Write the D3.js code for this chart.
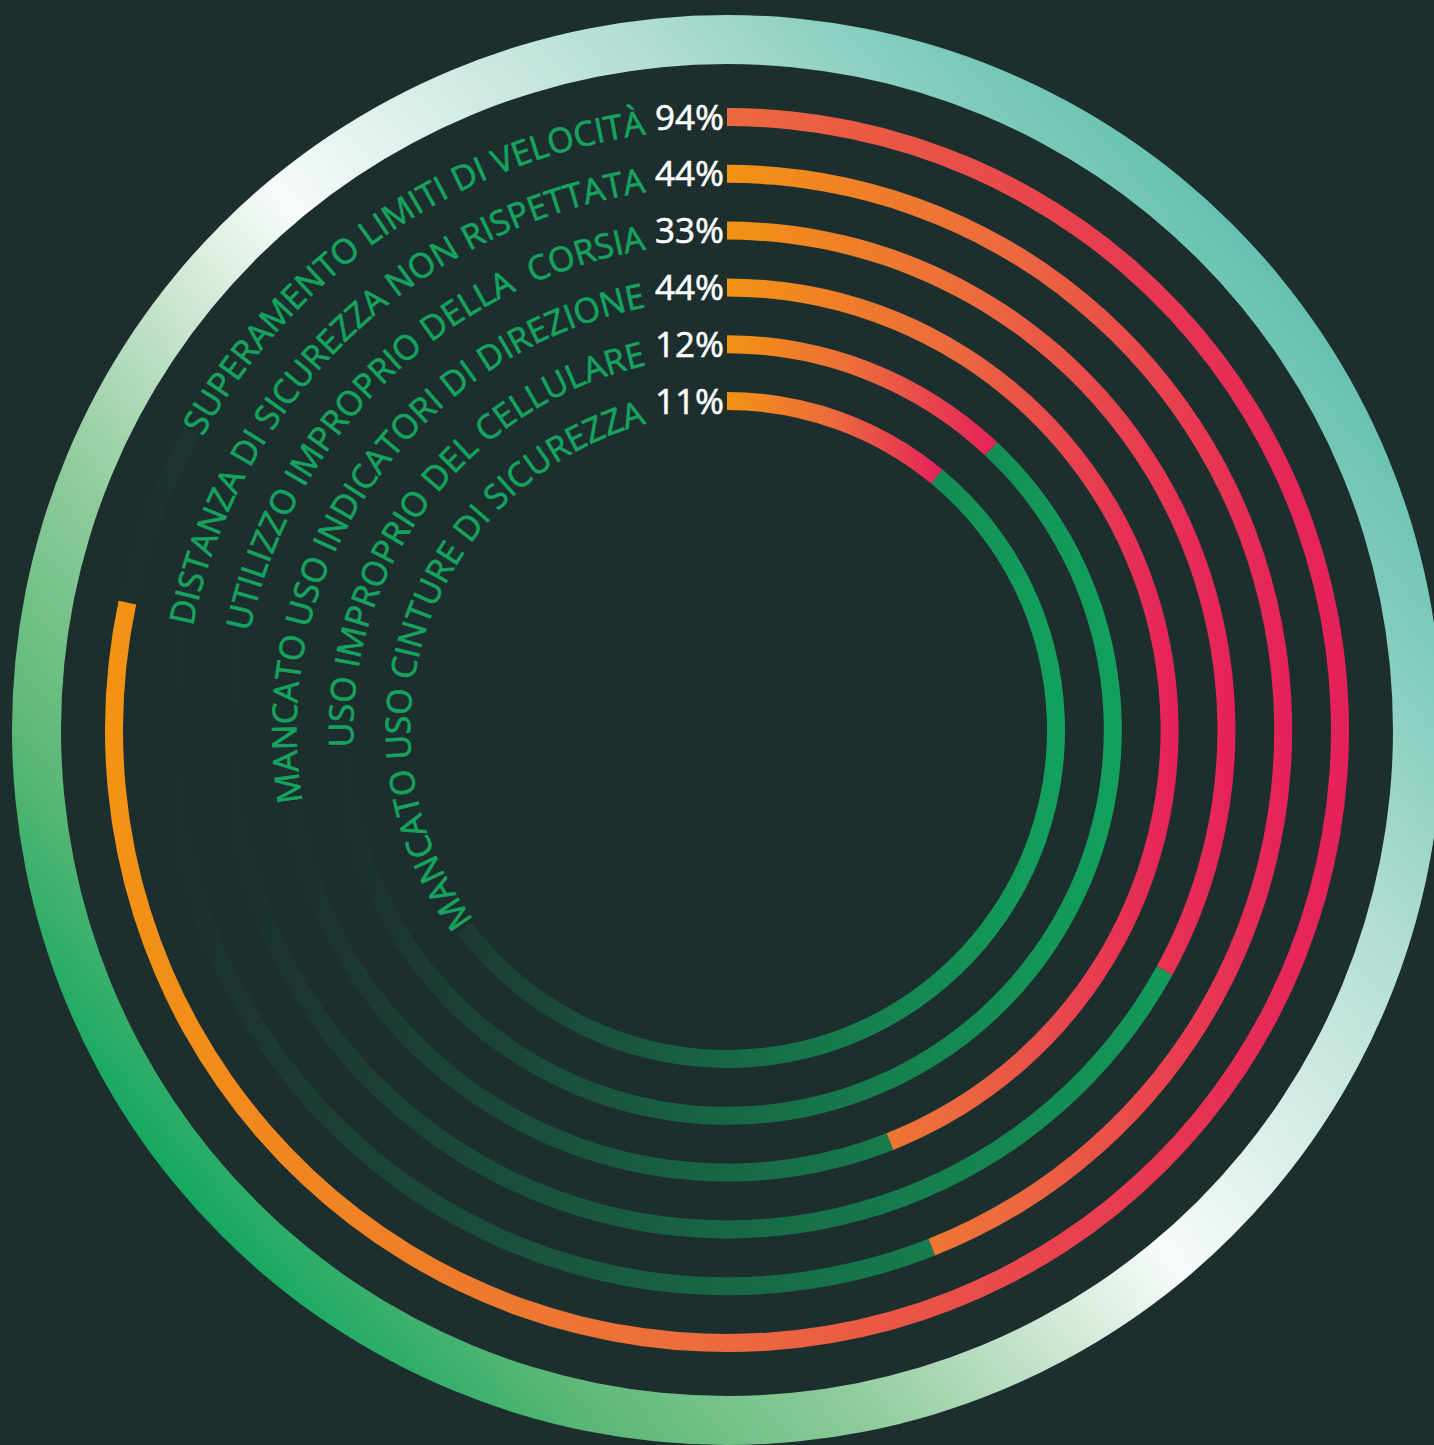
<!DOCTYPE html>
<html>
<head>
<meta charset="utf-8">
<script src="https://cdn.jsdelivr.net/npm/d3@7"></script>
<style>
  html, body { margin: 0; padding: 0; background: #1d2e2e; }
  svg { display: block; }
  .label { font-family: "Open Sans", sans-serif; fill: #15a35d; stroke: #15a35d; stroke-width: 0.7px; white-space: pre; }
  .pct { font-family: "Open Sans", sans-serif; fill: #ffffff; stroke: #ffffff; stroke-width: 0.6px; }
</style>
</head>
<body>
<svg id="chart"></svg>
<script>
// Values, outer ring first
var labels = [
    "SUPERAMENTO LIMITI DI VELOCITÀ",
    "DISTANZA DI SICUREZZA NON RISPETTATA",
    "UTILIZZO IMPROPRIO DELLA  CORSIA",
    "MANCATO USO INDICATORI DI DIREZIONE",
    "USO IMPROPRIO DEL CELLULARE",
    "MANCATO USO CINTURE DI SICUREZZA"
];
var values = [94, 44, 33, 44, 12, 11];

var width = 1434, height = 1445;
var cx = 727, cy = 730;
var bar_width = 18;
var ring_inner = 666, ring_outer = 715;
var label_size = 34, pct_size = 35;
// the last part of the circle is kept free for the labels
var max_sweep = 282 / 360 * 2 * Math.PI;
var bg = "#1d2e2e";

var svg = d3.select("#chart").attr("width", width).attr("height", height);
svg.append("rect").attr("width", width).attr("height", height).attr("fill", bg);
var defs = svg.append("defs");
var g = svg.append("g").attr("transform", "translate(" + cx + "," + cy + ")");

var angle = d3.scaleLinear().domain([0, 100]).range([0, 2 * Math.PI]);
var radius = d3.scalePoint().domain(d3.range(labels.length)).range([613, 329]);

// Outer decorative ring, teal -> white -> green along a diagonal
var dir = 50 * Math.PI / 180;
var ring_grad = defs.append("linearGradient")
    .attr("id", "ring-grad")
    .attr("gradientUnits", "userSpaceOnUse")
    .attr("x1", ring_outer * Math.sin(dir)).attr("y1", -ring_outer * Math.cos(dir))
    .attr("x2", -ring_outer * Math.sin(dir)).attr("y2", ring_outer * Math.cos(dir));
[[0, "#66c1ae"], [0.11, "#86cebe"], [0.24, "#b3ded3"], [0.5, "#f7fbf9"],
 [0.62, "#c3e2ca"], [0.742, "#8ccb99"], [0.883, "#5cb877"], [1, "#16a860"]]
    .forEach(function(s){
	ring_grad.append("stop").attr("offset", s[0]).attr("stop-color", s[1]);
    });

g.append("path")
    .attr("d", d3.arc()({innerRadius: ring_inner, outerRadius: ring_outer,
			 startAngle: 0, endAngle: 2 * Math.PI}))
    .attr("fill", "url(#ring-grad)");

// Bar gradient, left orange -> right crimson
var bar_grad = defs.append("linearGradient")
    .attr("id", "bar-grad")
    .attr("x1", 0).attr("y1", 0).attr("x2", 1).attr("y2", 0);
bar_grad.append("stop").attr("offset", 0).attr("stop-color", "#f39313");
bar_grad.append("stop").attr("offset", 0.5).attr("stop-color", "#ec6a3e");
bar_grad.append("stop").attr("offset", 1).attr("stop-color", "#e5205a");

var track_g = g.append("g");
var bar_g = g.append("g");
var text_g = g.append("g");

var arc = d3.arc();

values.forEach(function(v, i){
    var r = radius(i);
    var end = Math.min(angle(v), max_sweep);

    bar_g.append("path")
	.attr("d", arc({innerRadius: r - bar_width / 2, outerRadius: r + bar_width / 2,
			startAngle: 0, endAngle: end}))
	.attr("fill", "url(#bar-grad)");

    // percentage, straight, right aligned on the start of the bar
    var pct = text_g.append("text")
	.attr("class", "pct")
	.attr("x", -3)
	.attr("y", -r)
	.attr("dy", "0.357em")
	.attr("text-anchor", "end")
	.style("font-size", pct_size + "px")
	.text(v + "%");
    var w = pct.node().getComputedTextLength();

    // curved label, ending just before the percentage
    var rb = r - 0.357 * label_size;
    var delta = Math.asin((w + 12) / rb);
    text_g.append("path")
	.attr("id", "lp" + i)
	.attr("d", "M0," + rb + " A" + rb + "," + rb + " 0 0 1 0," + (-rb))
	.attr("fill", "none");
    var lab = text_g.append("text")
	.attr("class", "label")
	.attr("xml:space", "preserve")
	.style("font-size", label_size + "px");
    lab.append("textPath")
	.attr("href", "#lp" + i)
	.attr("startOffset", rb * (Math.PI - delta))
	.attr("text-anchor", "end")
	.text(labels[i]);
    var len = lab.node().getComputedTextLength();
    var label_start = 2 * Math.PI - delta - len / rb;

    // remaining track, fading from green (right) into the background (left)
    var tg = defs.append("linearGradient")
	.attr("id", "track-grad" + i)
	.attr("gradientUnits", "userSpaceOnUse")
	.attr("x1", -r).attr("y1", 0).attr("x2", r).attr("y2", 0);
    tg.append("stop").attr("offset", 0).attr("stop-color", bg);
    tg.append("stop").attr("offset", 1).attr("stop-color", "#12a15c");

    if (label_start > end) {
	track_g.append("path")
	    .attr("d", arc({innerRadius: r - bar_width / 2, outerRadius: r + bar_width / 2,
			    startAngle: end, endAngle: label_start}))
	    .attr("fill", "url(#track-grad" + i + ")");
    }
});
</script>
</body>
</html>
